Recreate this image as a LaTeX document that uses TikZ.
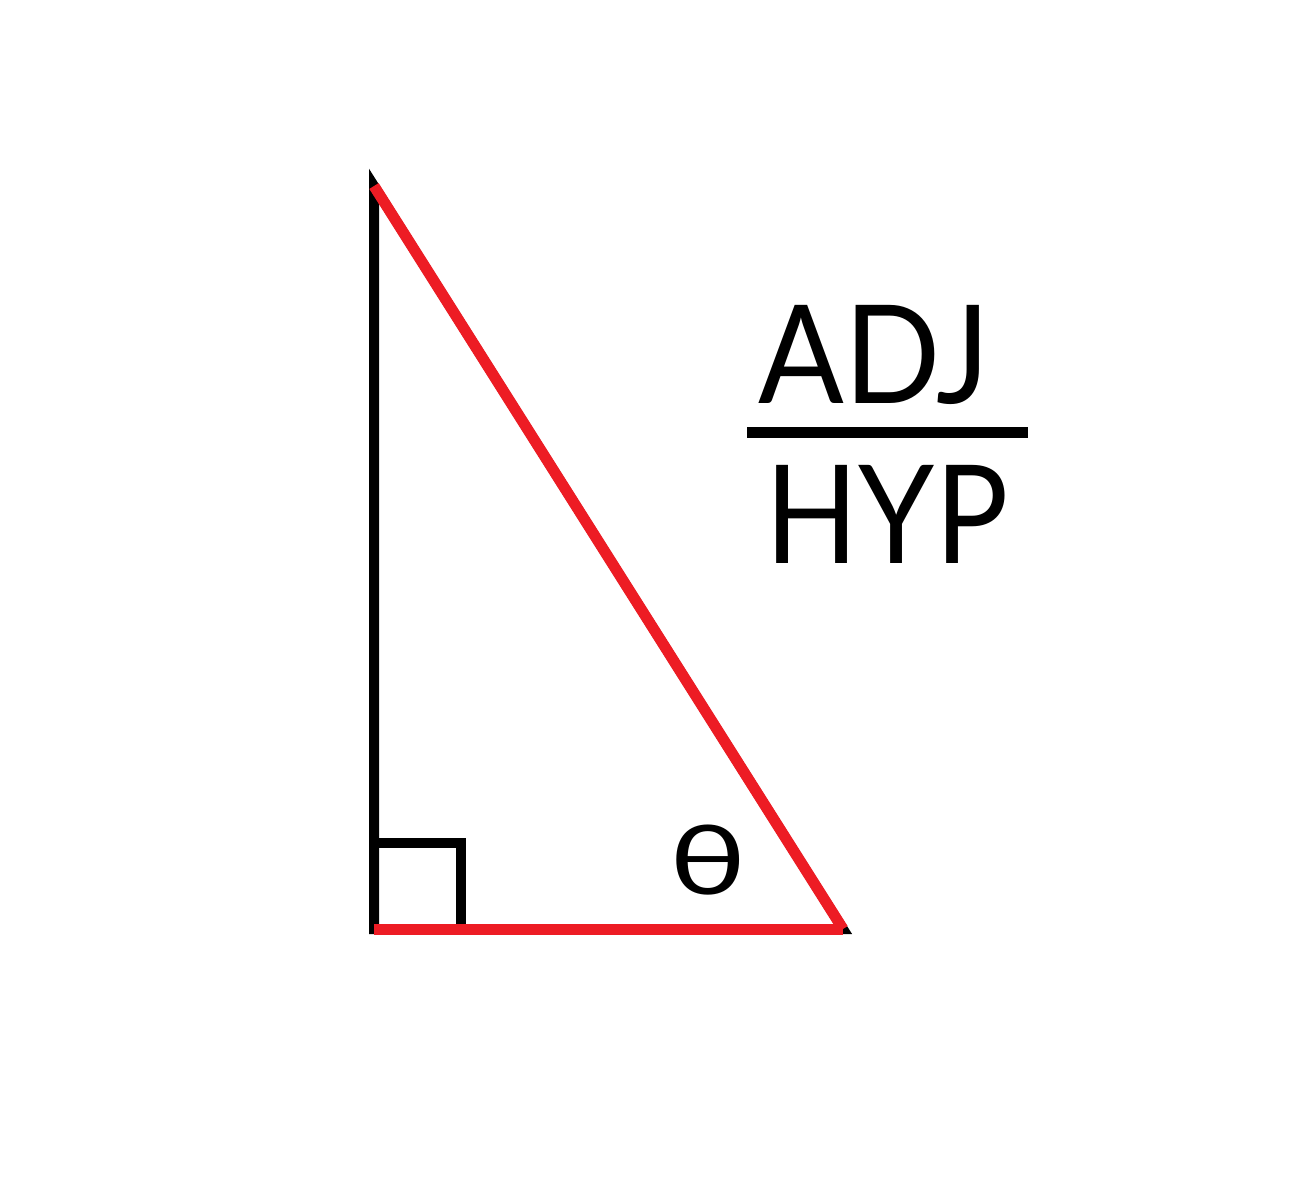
\documentclass[tikz,border=0pt]{standalone}
\usepackage{fontspec}
\setmainfont{Lato}
\begin{document}
\begin{tikzpicture}[x=1pt,y=-1pt,
  blackedge/.style={draw=black,line width=10pt,line join=miter},
  rededge/.style={draw=redline,line width=11pt,line cap=butt},
  bigtext/.style={inner sep=0pt,anchor=base,font=\fontsize{137}{137}\selectfont},
  angletext/.style={inner sep=0pt,anchor=base,font=\fontsize{96}{96}\selectfont}]
\definecolor{redline}{RGB}{237,28,36}
\useasboundingbox (0,0) rectangle (1298,1200);
\coordinate (A) at (374,186);
\coordinate (B) at (374,929);
\coordinate (C) at (843,929);
\coordinate (S1) at (374,843);
\coordinate (S2) at (461,843);
\coordinate (S3) at (461,929);
\draw[blackedge] (A) -- (B) -- (C) -- cycle;
\draw[blackedge,line join=miter] (S1) -- (S2) -- (S3);
\draw[rededge] (A) -- (C);
\draw[rededge] (B) -- (C);
\node[angletext] (theta) at (708,894) {\scalebox{1.35}[1]{θ}};
\node[bigtext] (adj) at (874,403) {\scalebox{0.925}[1]{ADJ}};
\node[bigtext] (hyp) at (887,563) {\scalebox{0.89}[1]{HYP}};
\coordinate (L1) at (747,432);
\coordinate (L2) at (1028,432);
\draw[line width=11pt] (L1) -- (L2);
\end{tikzpicture}
\end{document}
